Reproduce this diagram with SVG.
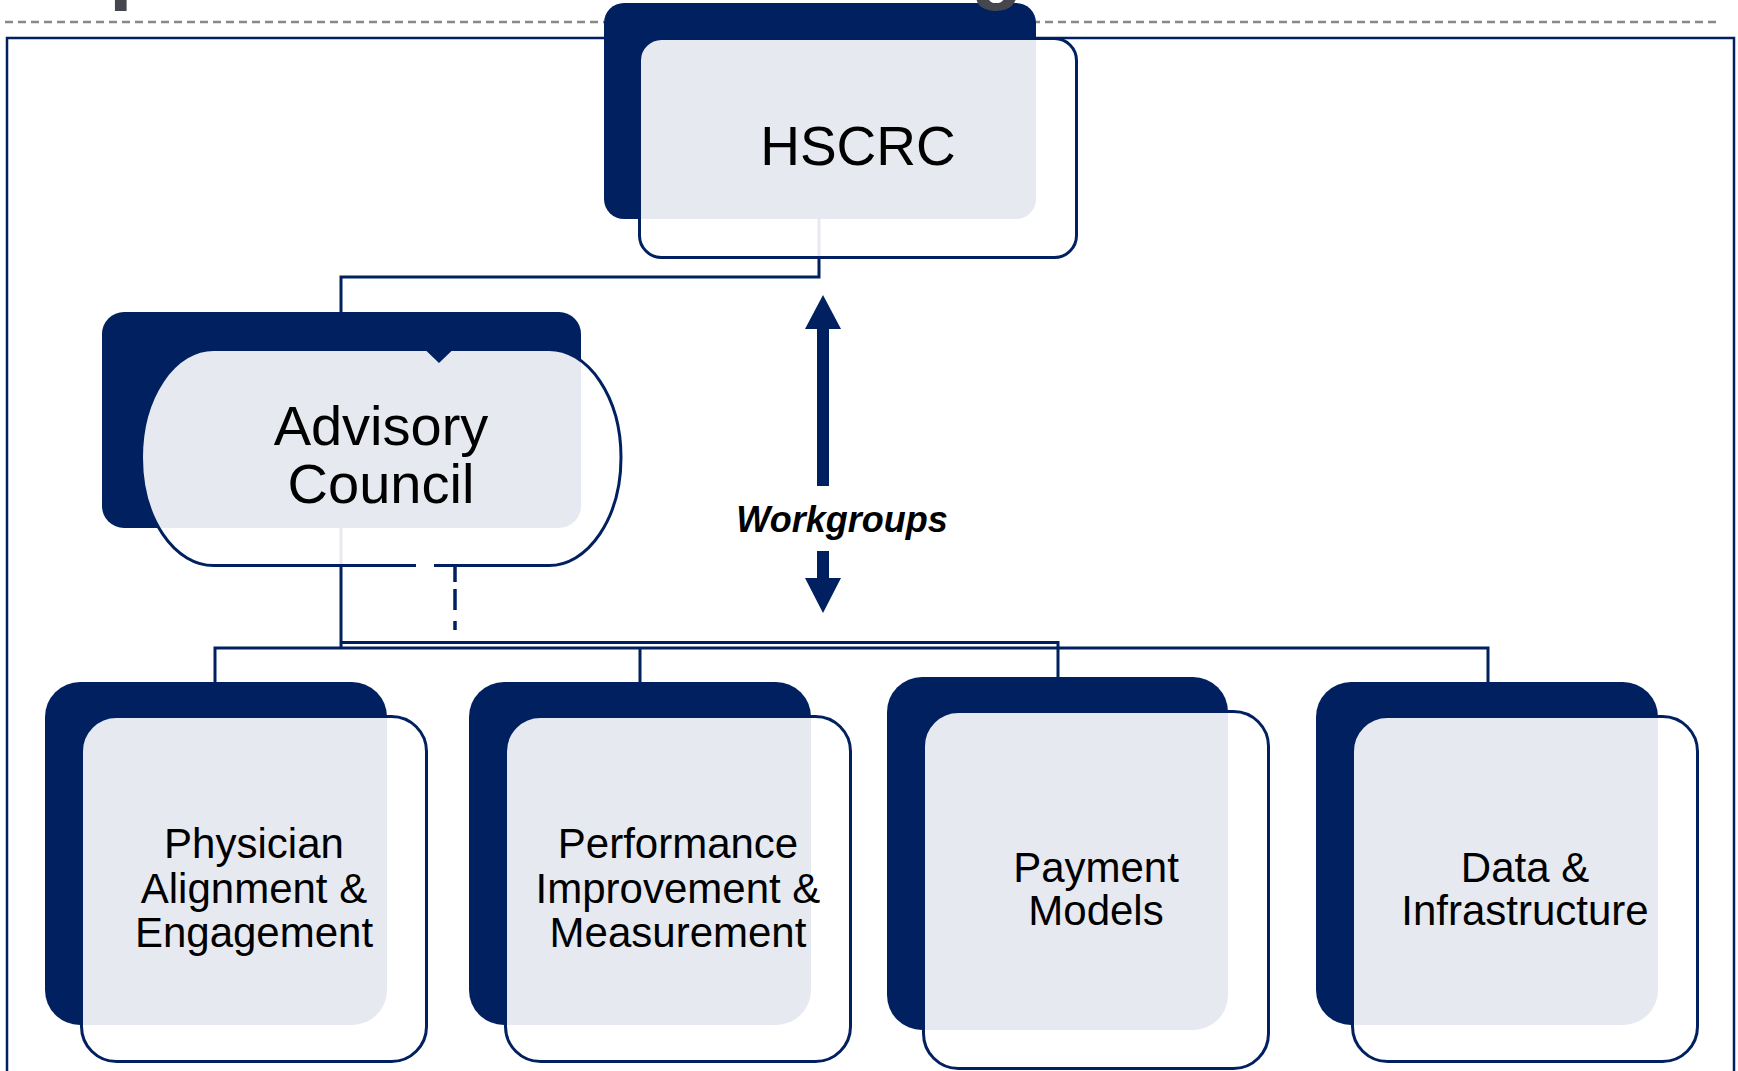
<svg xmlns="http://www.w3.org/2000/svg" width="1738" height="1071" viewBox="0 0 1738 1071">
<style>
.back{fill:#002060}
.front{fill:#ffffff;fill-opacity:0.9;stroke:none}
.edge{fill:none;stroke:#002060;stroke-width:3}
.conn{fill:none;stroke:#002060;stroke-width:3}
.lbl{font-family:"Liberation Sans",Arial,sans-serif;fill:#000000;text-anchor:middle}
.big{font-size:56px}
.mid{font-size:42px}
.title{font-family:"Liberation Sans",Arial,sans-serif;font-weight:bold;font-size:85px;fill:#46464f}
</style>
<rect width="1738" height="1071" fill="#ffffff"/>
<path d="M7 1071 V38 H1734 V1071" fill="none" stroke="#002060" stroke-width="2.5"/>
<line x1="5" y1="22" x2="1718" y2="22" stroke="#898989" stroke-width="2.5" stroke-dasharray="8 5"/>
<g id="connectors">
<path class="conn" d="M819 219 V277 H341 V312"/>
<path class="conn" d="M341 528 V649"/>
<path class="conn" d="M341 642.5 H1058 V677"/>
<path class="conn" d="M215 682 V648 H1488 V682"/>
<path class="conn" d="M640 648 V682"/>
<path d="M455 567 V630" fill="none" stroke="#002060" stroke-width="3.5" stroke-dasharray="15 7 21 11 9"/>
</g>
<g id="hscrc">
<rect class="back" x="604" y="3" width="432" height="216" rx="20"/>
<rect class="front" x="639.5" y="38.5" width="437" height="219" rx="22"/>
<rect class="edge" x="639.5" y="38.5" width="437" height="219" rx="22"/>
<text class="lbl" x="858" y="165" font-size="55">HSCRC</text>
</g>
<g id="advisory">
<rect class="back" x="102" y="312" width="479" height="216" rx="22"/>
<path class="front" d="M213.5 349.5 H427 L439 361 L451 349.5 H549 A72 108 0 0 1 621 457.5 A72 108 0 0 1 549 565.5 H213.5 A72 108 0 0 1 141.5 457.5 A72 108 0 0 1 213.5 349.5 Z"/>
<path class="edge" d="M416 565.5 H213.5 A72 108 0 0 1 141.5 457.5 A72 108 0 0 1 213.5 349.5 H427 L439 361 L451 349.5 H549 A72 108 0 0 1 621 457.5 A72 108 0 0 1 549 565.5 H434"/>
<text class="lbl big" x="381" y="445">Advisory</text>
<text class="lbl big" x="381" y="503">Council</text>
</g>
<g id="physician">
<rect class="back" x="45" y="682" width="342" height="343" rx="35"/>
<rect class="front" x="81.5" y="716.5" width="345" height="345" rx="35"/>
<rect class="edge" x="81.5" y="716.5" width="345" height="345" rx="35"/>
<text class="lbl mid" x="254" y="858">Physician</text>
<text class="lbl mid" x="254" y="903">Alignment &amp;</text>
<text class="lbl mid" x="254" y="947">Engagement</text>
</g>
<g id="performance">
<rect class="back" x="469" y="682" width="342" height="343" rx="35"/>
<rect class="front" x="505.5" y="716.5" width="345" height="345" rx="35"/>
<rect class="edge" x="505.5" y="716.5" width="345" height="345" rx="35"/>
<text class="lbl mid" x="678" y="858">Performance</text>
<text class="lbl mid" x="678" y="903">Improvement &amp;</text>
<text class="lbl mid" x="678" y="947">Measurement</text>
</g>
<g id="payment">
<rect class="back" x="887" y="677" width="341" height="353" rx="35"/>
<rect class="front" x="923.5" y="711.5" width="345" height="357" rx="35"/>
<rect class="edge" x="923.5" y="711.5" width="345" height="357" rx="35"/>
<text class="lbl mid" x="1096" y="882">Payment</text>
<text class="lbl mid" x="1096" y="925">Models</text>
</g>
<g id="data">
<rect class="back" x="1316" y="682" width="342" height="343" rx="35"/>
<rect class="front" x="1352.5" y="716.5" width="345" height="345" rx="35"/>
<rect class="edge" x="1352.5" y="716.5" width="345" height="345" rx="35"/>
<text class="lbl mid" x="1525" y="882">Data &amp;</text>
<text class="lbl mid" x="1525" y="925">Infrastructure</text>
</g>
<g id="workgroups">
<path class="back" d="M823 295 L841 329 H829 V486 H817 V329 H805 Z"/>
<path class="back" d="M817 551 H829 V578 H841 L823 613 L805 578 H817 Z"/>
<text class="lbl" x="842" y="532" font-size="36" font-weight="bold" font-style="italic">Workgroups</text>
</g>
<text class="title" x="109" y="-7">p</text>
<text class="title" x="971" y="-7">g</text>
</svg>
